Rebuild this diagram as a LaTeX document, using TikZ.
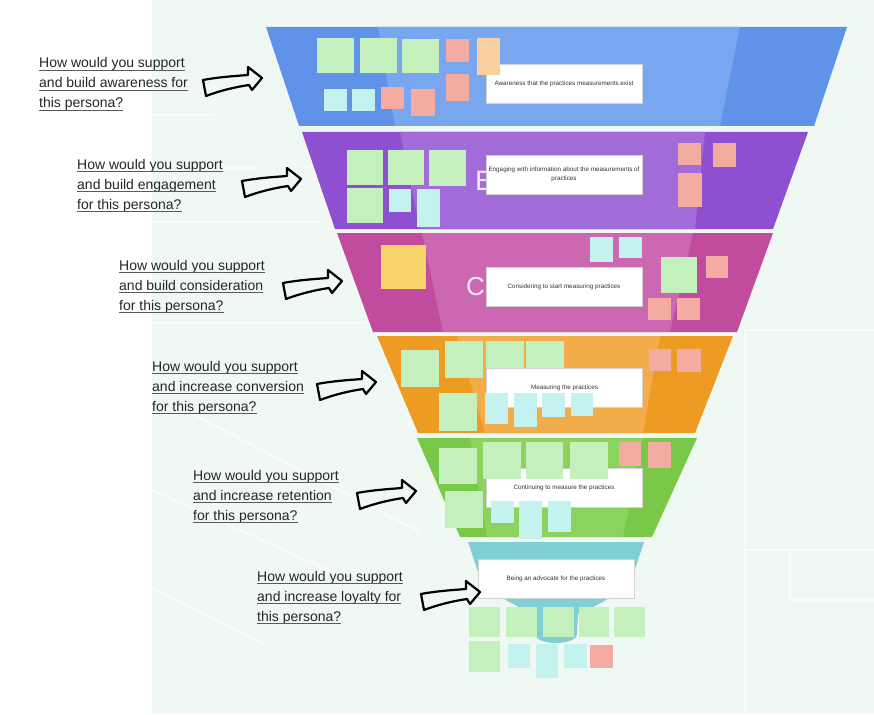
\documentclass[tikz,border=0pt]{standalone}
\usepackage{fontspec}
\setmainfont{Liberation Sans}
\definecolor{bgmint}{HTML}{F0F8F3}
\definecolor{qtxt}{HTML}{262626}
\definecolor{qund}{HTML}{5A5A5A}
\definecolor{boxtxt}{HTML}{333333}
\definecolor{o1}{HTML}{5F92E8}\definecolor{i1}{HTML}{78A7EF}
\definecolor{o2}{HTML}{8E4FD0}\definecolor{i2}{HTML}{A26BDA}
\definecolor{o3}{HTML}{C14C9E}\definecolor{i3}{HTML}{CC67B1}
\definecolor{o4}{HTML}{EE9B24}\definecolor{i4}{HTML}{F2AD4A}
\definecolor{o5}{HTML}{79C847}\definecolor{i5}{HTML}{8CD35D}
\definecolor{tealband}{HTML}{80CFD5}
\definecolor{gnote}{HTML}{C4F0BE}
\definecolor{cnote}{HTML}{C3F2EF}
\definecolor{rnote}{HTML}{F4ABA2}
\definecolor{onote}{HTML}{F9D1A1}
\definecolor{ynote}{HTML}{F8D56B}
\begin{document}
\begin{tikzpicture}[x=1pt,y=-1pt,
  qline/.style={anchor=base west,inner sep=0pt,text=qtxt,font=\fontsize{14}{20}\selectfont},
  qrule/.style={draw=qund,line width=1.1pt},
  qarrow/.style={draw=black,line width=2.2pt,line join=round},
  stagebox/.style={draw=black!18,fill=white,minimum width=156pt,minimum height=39pt,inner sep=2pt,
    align=center,text=boxtxt,font=\fontsize{6.3}{9}\selectfont},
  ghost/.style={anchor=base west,inner sep=0pt,text=white,opacity=0.85},
  bgline/.style={draw=white,line width=2pt,opacity=0.7}]
  \useasboundingbox (0,0) rectangle (874,714);
  \fill[white] (0,0) rectangle (874,714);
  \fill[bgmint] (152,0) rectangle (874,714);
  \draw[bgline] (152,115) -- (213,115);
  \draw[bgline] (223,168) -- (257,168);
  \draw[bgline] (152,222) -- (320,222);
  \draw[bgline] (152,323) -- (365,323);
  \draw[bgline] (175,405) -- (420,532);
  \draw[bgline] (152,490) -- (350,580);
  \draw[bgline] (152,588) -- (265,645);
  \draw[bgline] (745,330) -- (874,330);
  \draw[bgline] (745,330) -- (745,714);
  \draw[bgline] (745,550) -- (874,550);
  \draw[bgline] (790,550) -- (790,600) -- (874,600);
  \foreach \ya/\yb/\xa/\xb/\xc/\xd/\ia/\ib/\ic/\id/\c in {
      27/126/266/847/814/299/378/740/720/395/1,
      132/229/302/808/773/335/400/705/695/420/2,
      233/332/337/773/737/373/422/693/670/443/3,
      336/433/377/733/695/418/457/660/643/485/4,
      438/537/417/697/652/460/470/643/623/487/5}{
    \fill[o\c] (\xa,\ya) -- (\xb,\ya) -- (\xc,\yb) -- (\xd,\yb) -- cycle;
    \fill[i\c] (\ia,\ya) -- (\ib,\ya) -- (\ic,\yb) -- (\id,\yb) -- cycle;
  }
  \fill[tealband] (468,542) -- (644,542) -- (636,566) .. controls (628,592) and (600,604) .. (578,614)
    -- (577,634) .. controls (576,646) and (536,646) .. (535,634) -- (534,614)
    .. controls (512,604) and (484,592) .. (476,566) -- cycle;
  \node[ghost,font=\fontsize{28}{28}\selectfont] (g2) at (475,190) {E};
  \node[ghost,font=\fontsize{26}{26}\selectfont] (g3) at (466,295) {C};
  \node[stagebox] (s1) at (564,84) {Awareness that the practices measurements exist};
  \node[stagebox] (s2) at (564,174.5) {Engaging with information about the measurements of\\practices};
  \node[stagebox] (s3) at (564,286.5) {Considering to start measuring practices};
  \node[stagebox] (s4) at (564.5,387.5) {Measuring the practices};
  \node[stagebox] (s5) at (564,488) {Continuing to measure the practices};
  \node[stagebox] (s6) at (556,579) {Being an advocate for the practices};
  \foreach \xa/\ya/\xb/\yb in {317/38/354/73,360/38/397/73,402/39/439/73,
      347/150/383/185,388/150/424/185,429/150/466/186,347/188/383/223,661/257/697/293,
      401/350/439/387,445/341/483/378,486/341/524/368,526/341/564/368,439/393/477/431,
      439/448/477/484,483/442/521/479,526/442/563/479,570/442/608/479,445/491/483/528,
      469/607/500/637,506/607/537/637,543/607/574/637,579/607/609/637,614/607/645/637,469/641/500/672}
    \fill[gnote] (\xa,\ya) rectangle (\xb,\yb);
  \foreach \xa/\ya/\xb/\yb in {324/89/347/111,352/89/375/111,389/189/411/212,417/189/440/227,
      590/237/613/262,619/237/642/258,485/393/508/424,514/393/537/427,542/393/565/417,571/393/593/416,
      491/501/514/523,519/501/542/539,548/501/571/532,508/644/530/668,536/644/558/678,564/644/587/668}
    \fill[cnote] (\xa,\ya) rectangle (\xb,\yb);
  \foreach \xa/\ya/\xb/\yb in {446/39/469/62,446/74/469/101,381/87/404/109,411/89/435/116,
      678/143/701/165,713/143/736/167,678/173/702/207,706/256/728/278,648/298/671/320,677/298/700/320,
      649/349/671/371,677/349/701/372,619/442/641/466,648/442/671/468,590/645/613/668}
    \fill[rnote] (\xa,\ya) rectangle (\xb,\yb);
  \fill[onote] (477,38) rectangle (500,75);
  \fill[ynote] (381,245) rectangle (426,289);
  \foreach \i/\qx/\qy/\lb/\lc in {
      1/39/68/{and build awareness for}/{this persona?},
      2/77/169/{and build engagement}/{for this persona?},
      3/119/270/{and build consideration}/{for this persona?},
      4/152/371/{and increase conversion}/{for this persona?},
      5/193/480/{and increase retention}/{for this persona?},
      6/257/581/{and increase loyalty for}/{this persona?}}{
    \node[qline] (q\i-a) at (\qx,\qy) {How would you support};
    \node[qline] (q\i-b) at (\qx,\qy+20) {\lb};
    \node[qline] (q\i-c) at (\qx,\qy+40) {\lc};
    \foreach \l in {a,b,c}
      \draw[qrule] ([yshift=-2.5pt]q\i-\l.base west) -- ([yshift=-2.5pt]q\i-\l.base east);
  }
  \foreach \ax/\ay in {203/67,242/168,283/270,317/371,357/480,421/581}
    \draw[qarrow,shift={(\ax,\ay)}] (0,13) .. controls (16,10) and (32,9) .. (45,8) -- (45,0) -- (59,11)
      -- (49,23) -- (46,18) .. controls (32,20) and (16,24) .. (3,29) -- cycle;
\end{tikzpicture}
\end{document}
